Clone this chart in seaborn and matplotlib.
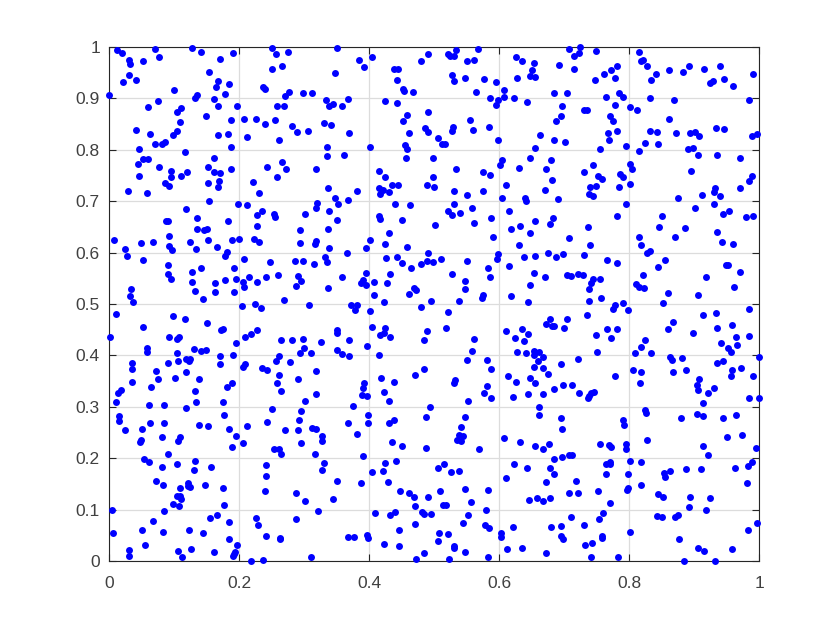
import matplotlib
matplotlib.use('Agg')
import matplotlib.pyplot as plt
import numpy as np
import pandas as pd
import seaborn as sns

# points, one list per region of the plot
top_left = [(.012,.994),(.020,.989),(.071,.996),(.127,.998),(.142,.990),(.191,.988),(.251,.998),(.257,.986),(.276,.990),
    (.030,.974),(.033,.967),(.053,.972),(.077,.980),(.170,.976),(.266,.964),(.251,.957),(.154,.952),(.030,.945),(.022,.932),(.042,.935),
    (.168,.934),(.165,.923),(.184,.928),(.100,.916),(.237,.923),(.240,.919),(.000,.907),(.136,.907),(.133,.901),(.178,.909),(.161,.899),
    (.075,.895),(.277,.912),(.270,.905),(.298,.911),(.313,.910),(.060,.883),(.168,.885),(.197,.885),(.258,.885),(.269,.885),(.110,.881),
    (.104,.873),(.149,.865),(.109,.855),(.187,.858),(.208,.859),(.226,.860),(.255,.858),(.240,.850),(.282,.847),(.042,.838),(.105,.837),
    (.289,.835),(.306,.837),(.063,.830),(.098,.828),(.183,.830),(.167,.828),(.212,.825),(.261,.819),(.071,.812),(.082,.812),(.086,.815),
    (.046,.801),(.187,.805),(.117,.795),(.053,.782),(.060,.782),(.162,.784),(.044,.773),(.266,.776),(.077,.767),(.152,.767),(.243,.767),
    (.188,.763),(.273,.762),(.319,.762),(.096,.758),(.096,.747),(.120,.756),(.111,.749),(.161,.756),(.170,.755),(.046,.750),(.258,.748),
    (.086,.735),(.092,.730),(.153,.735),(.169,.740),(.167,.728),(.222,.737),(.029,.720),(.059,.716),(.231,.716),(.154,.700),(.198,.695),
    (.212,.692),(.320,.696),(.319,.687),(.119,.684),(.236,.680),(.228,.673),(.254,.676),(.255,.669),(.301,.675),(.136,.668),(.088,.662),
    (.091,.662),(.183,.661),(.228,.652),(.136,.646),(.146,.643),(.150,.646),(.294,.643),(.092,.633),(.007,.624),(.049,.618),(.068,.620),
    (.124,.620),(.152,.624),(.189,.624),(.200,.626),(.223,.626),(.230,.620),(.294,.618),(.318,.623),(.317,.617),(.093,.613),(.097,.605),
    (.134,.607),(.166,.611),(.024,.607),(.181,.602),(.179,.593),(.028,.593),(.053,.585),(.207,.587),(.247,.581),(.286,.583),(.299,.583),
    (.316,.578),(.090,.576),(.142,.571),(.192,.570),(.128,.562),(.090,.559),(.096,.549),(.260,.557),(.216,.553),(.242,.552),(.290,.554),
    (.296,.545),(.128,.543),(.163,.541),(.178,.546),(.196,.548),(.206,.543),(.228,.543),(.288,.535),(.034,.530),(.208,.533),(.033,.516),
    (.133,.525),(.163,.523),(.192,.524),(.145,.510),(.269,.508),(.037,.504)]

top_mid = [(.351,.998),(.490,.987),(.534,.995),(.568,.997),(.522,.986),(.525,.982),(.531,.982),(.550,.973),(.562,.975),(.626,.981),
    (.635,.972),(.654,.969),(.385,.975),(.404,.980),(.393,.962),(.480,.972),(.348,.949),(.438,.957),(.445,.958),(.443,.935),(.527,.946),
    (.531,.933),(.547,.940),(.577,.938),(.595,.931),(.628,.940),(.650,.955),(.648,.943),(.655,.941),(.452,.919),(.454,.915),(.467,.912),
    (.565,.912),(.608,.917),(.586,.900),(.608,.902),(.623,.901),(.598,.896),(.595,.888),(.643,.893),(.334,.897),(.367,.899),(.344,.889),
    (.339,.886),(.359,.886),(.424,.894),(.443,.891),(.490,.873),(.459,.867),(.453,.856),(.556,.858),(.331,.853),(.341,.849),(.529,.845),
    (.528,.837),(.560,.839),(.584,.845),(.486,.842),(.490,.835),(.462,.833),(.369,.832),(.663,.828),(.506,.823),(.513,.812),(.517,.811),
    (.599,.820),(.336,.806),(.402,.806),(.456,.810),(.459,.801),(.656,.804),(.335,.788),(.362,.790),(.457,.785),(.498,.784),(.648,.785),
    (.604,.781),(.602,.771),(.631,.764),(.534,.763),(.415,.758),(.424,.747),(.499,.747),(.575,.757),(.586,.751),(.337,.726),(.436,.732),
    (.444,.732),(.489,.731),(.500,.728),(.611,.732),(.416,.725),(.381,.720),(.422,.722),(.417,.714),(.431,.717),(.531,.720),(.575,.720),
    (.550,.713),(.348,.706),(.368,.702),(.353,.695),(.604,.706),(.640,.706),(.641,.700),(.531,.695),(.440,.694),(.463,.693),(.558,.686),
    (.338,.680),(.521,.680),(.527,.673),(.540,.677),(.616,.680),(.415,.672),(.417,.665),(.350,.663),(.451,.663),(.587,.668),(.656,.661),
    (.501,.654),(.562,.657),(.632,.652),(.337,.646),(.618,.646),(.430,.639),(.648,.639),(.590,.631),(.402,.624),(.425,.617),(.339,.609),
    (.395,.609),(.458,.610),(.630,.615),(.366,.599),(.490,.600),(.332,.591),(.335,.582),(.426,.590),(.443,.591),(.599,.597),(.597,.587),
    (.639,.591),(.656,.594),(.450,.579),(.465,.571),(.480,.577),(.489,.583),(.498,.582),(.511,.588),(.550,.584),(.583,.570),(.615,.573),
    (.395,.561),(.432,.558),(.527,.559),(.586,.552),(.654,.560),(.359,.552),(.391,.546),(.388,.540),(.396,.537),(.407,.543),(.428,.540),
    (.547,.544),(.647,.536),(.337,.531),(.469,.532),(.473,.528),(.547,.529),(.461,.520),(.408,.517),(.576,.517),(.574,.512),(.618,.516),
    (.495,.505),(.539,.506),(.423,.504),(.645,.504)]

top_right = [(.708,.997),(.724,1.0),(.723,.989),(.715,.982),(.749,.993),(.815,.990),(.818,.973),(.822,.974),(.827,.963),(.693,.965),
    (.715,.958),(.782,.963),(.772,.955),(.762,.947),(.779,.940),(.747,.936),(.862,.956),(.892,.963),(.883,.951),(.916,.958),(.940,.964),
    (.842,.947),(.834,.936),(.990,.947),(.946,.937),(.929,.933),(.925,.930),(.960,.925),(.684,.911),(.705,.910),(.764,.902),(.785,.910),
    (.790,.903),(.832,.901),(.869,.897),(.985,.897),(.697,.885),(.779,.887),(.801,.884),(.812,.878),(.731,.878),(.735,.878),(.696,.865),
    (.688,.856),(.770,.865),(.776,.857),(.861,.860),(.934,.842),(.946,.840),(.781,.836),(.768,.833),(.833,.836),(.843,.834),(.872,.832),
    (.894,.833),(.901,.834),(.907,.827),(.989,.827),(.997,.830),(.684,.819),(.702,.815),(.769,.819),(.824,.813),(.845,.812),(.755,.802),
    (.795,.807),(.815,.797),(.891,.801),(.898,.803),(.906,.790),(.935,.789),(.971,.785),(.680,.781),(.672,.763),(.744,.770),(.730,.757),
    (.801,.773),(.804,.763),(.896,.759),(.682,.741),(.753,.749),(.758,.743),(.786,.753),(.790,.747),(.801,.734),(.989,.750),(.984,.739),
    (.670,.722),(.740,.727),(.749,.730),(.785,.727),(.971,.726),(.932,.726),(.930,.717),(.739,.714),(.745,.711),(.690,.705),(.876,.706),
    (.913,.712),(.940,.711),(.795,.694),(.930,.695),(.902,.687),(.954,.681),(.944,.675),(.781,.671),(.851,.672),(.991,.672),(.980,.669),
    (.683,.667),(.679,.655),(.737,.650),(.846,.650),(.886,.647),(.935,.641),(.707,.628),(.815,.631),(.870,.630),(.740,.615),(.818,.614),
    (.943,.620),(.960,.616),(.676,.600),(.699,.598),(.687,.591),(.730,.595),(.827,.599),(.832,.603),(.766,.585),(.781,.580),(.855,.585),
    (.845,.572),(.949,.576),(.953,.575),(.970,.562),(.671,.552),(.704,.557),(.710,.554),(.722,.559),(.729,.557),(.744,.549),(.755,.548),
    (.821,.557),(.918,.552),(.742,.540),(.738,.529),(.810,.538),(.815,.533),(.823,.532),(.961,.534),(.860,.521),(.906,.517),(.757,.512),
    (.739,.505)]

bottom_left = [(.205,.497),(.224,.500),(.234,.492),(.307,.499),(.010,.480),(.098,.476),(.117,.471),(.151,.463),(.052,.456),(.173,.450),
    (.176,.451),(.228,.450),(.093,.436),(.108,.436),(.105,.432),(.218,.441),(.209,.435),(.001,.435),(.265,.430),(.281,.430),(.298,.432),
    (.196,.424),(.059,.414),(.059,.406),(.130,.413),(.142,.408),(.149,.410),(.300,.414),(.105,.404),(.294,.404),(.311,.404),(.171,.398),
    (.190,.400),(.262,.399),(.257,.390),(.279,.387),(.036,.385),(.091,.386),(.106,.390),(.118,.393),(.125,.393),(.123,.389),(.171,.384),
    (.209,.383),(.206,.377),(.035,.373),(.235,.376),(.243,.371),(.072,.369),(.119,.367),(.318,.369),(.262,.362),(.075,.354),(.101,.356),
    (.138,.354),(.291,.354),(.036,.348),(.189,.347),(.258,.346),(.064,.338),(.181,.339),(.019,.333),(.014,.327),(.132,.330),(.265,.330),
    (.318,.324),(.011,.309),(.061,.304),(.085,.303),(.134,.309),(.175,.309),(.301,.311),(.119,.298),(.251,.295),(.295,.291),(.015,.283),
    (.016,.273),(.177,.285),(.292,.275),(.063,.268),(.084,.268),(.243,.271),(.139,.265),(.153,.263),(.212,.263),(.025,.255),(.051,.256),
    (.185,.257),(.270,.255),(.290,.254),(.312,.258),(.318,.257),(.081,.241),(.109,.241),(.106,.233),(.196,.244),(.049,.235),(.048,.231),
    (.206,.229),(.296,.229),(.189,.221),(.254,.217),(.262,.218),(.264,.209),(.091,.208),(.317,.208),(.054,.198),(.062,.193),(.132,.194),
    (.105,.189),(.081,.183),(.157,.183),(.242,.186),(.130,.178),(.241,.166),(.073,.155),(.083,.148),(.121,.151),(.122,.146),(.124,.143),
    (.147,.147),(.109,.142),(.175,.142),(.240,.137),(.288,.133),(.105,.127),(.109,.126),(.111,.120),(.098,.110),(.107,.107),(.177,.109),
    (.301,.116),(.004,.099),(.084,.098),(.322,.098),(.166,.089),(.156,.083),(.226,.083),(.288,.082),(.068,.078),(.184,.075),(.229,.070),
    (.051,.060),(.083,.057),(.123,.061),(.145,.054),(.006,.055),(.241,.049),(.184,.043),(.263,.045),(.263,.042),(.056,.032),(.197,.032),
    (.031,.021),(.106,.020),(.126,.023),(.162,.017),(.194,.018),(.192,.014),(.190,.010),(.031,.010),(.112,.008),(.311,.008),(.219,.000),
    (.237,.001)]

bottom_mid = [(.373,.499),(.381,.499),(.378,.489),(.402,.486),(.480,.495),(.522,.484),(.350,.449),(.350,.444),(.405,.455),(.424,.454),
    (.423,.443),(.417,.439),(.432,.436),(.489,.448),(.519,.454),(.610,.447),(.636,.452),(.645,.441),(.624,.433),(.485,.430),(.561,.432),
    (.369,.429),(.326,.426),(.397,.419),(.639,.428),(.351,.411),(.359,.402),(.369,.398),(.416,.401),(.559,.408),(.628,.407),(.641,.404),
    (.654,.409),(.662,.407),(.654,.401),(.550,.391),(.581,.391),(.660,.389),(.587,.373),(.484,.374),(.654,.378),(.471,.361),(.419,.356),
    (.614,.360),(.648,.357),(.392,.347),(.439,.348),(.533,.353),(.531,.346),(.626,.348),(.655,.346),(.582,.341),(.391,.337),(.423,.328),
    (.577,.326),(.389,.322),(.397,.321),(.622,.320),(.645,.324),(.431,.311),(.588,.317),(.552,.311),(.376,.301),(.494,.300),(.662,.300),
    (.399,.285),(.487,.281),(.547,.281),(.661,.284),(.439,.275),(.430,.268),(.367,.268),(.398,.269),(.541,.260),(.381,.248),(.539,.246),
    (.545,.243),(.535,.236),(.541,.233),(.608,.239),(.328,.243),(.327,.234),(.435,.231),(.451,.224),(.488,.220),(.632,.231),(.656,.223),
    (.569,.217),(.391,.205),(.442,.195),(.330,.190),(.425,.190),(.515,.189),(.506,.181),(.623,.189),(.328,.178),(.422,.176),(.405,.174),
    (.526,.173),(.539,.176),(.643,.181),(.610,.161),(.351,.155),(.387,.151),(.429,.154),(.547,.141),(.583,.139),(.509,.137),(.448,.137),
    (.461,.133),(.469,.125),(.491,.124),(.344,.121),(.646,.118),(.658,.122),(.557,.115),(.514,.109),(.519,.109),(.471,.107),(.580,.100),
    (.409,.094),(.440,.096),(.432,.090),(.482,.095),(.485,.091),(.495,.092),(.553,.090),(.471,.072),(.544,.073),(.579,.070),(.584,.064),
    (.621,.066),(.446,.060),(.508,.054),(.522,.053),(.603,.055),(.603,.046),(.368,.046),(.377,.047),(.397,.050),(.399,.044),(.423,.034),
    (.506,.038),(.531,.030),(.531,.025),(.446,.029),(.613,.024),(.636,.025),(.548,.018),(.485,.016),(.583,.008),(.473,.003),(.523,.003)]

bottom_right = [(.778,.499),(.775,.490),(.791,.502),(.798,.489),(.853,.501),(.984,.491),(.735,.478),(.914,.478),(.934,.482),(.679,.471),
    (.704,.471),(.673,.462),(.681,.457),(.685,.458),(.700,.454),(.868,.465),(.860,.452),(.935,.454),(.959,.460),(.766,.451),(.781,.451),
    (.899,.443),(.749,.439),(.773,.434),(.965,.436),(.984,.438),(.825,.430),(.941,.425),(.966,.421),(.819,.417),(.952,.414),(.957,.406),
    (.750,.407),(.809,.404),(.834,.404),(.863,.397),(.866,.392),(.881,.394),(.722,.393),(.668,.396),(.695,.384),(.936,.386),(.945,.390),
    (1.0,.396),(.667,.375),(.676,.364),(.806,.372),(.818,.367),(.868,.367),(.887,.372),(.958,.371),(.973,.376),(.957,.360),(.779,.359),
    (.991,.360),(.907,.355),(.817,.346),(.904,.343),(.698,.343),(.712,.342),(.685,.334),(.930,.336),(.906,.332),(.921,.326),(.746,.329),
    (.742,.326),(.739,.321),(.737,.317),(.723,.327),(.667,.324),(.985,.317),(1.0,.318),(.914,.307),(.824,.293),(.826,.287),(.905,.286),
    (.914,.283),(.964,.285),(.696,.278),(.791,.275),(.880,.279),(.944,.278),(.793,.265),(.697,.257),(.950,.241),(.974,.246),(.827,.236),
    (.677,.228),(.668,.217),(.755,.228),(.769,.226),(.772,.221),(.796,.228),(.795,.218),(.914,.224),(.995,.220),(.707,.207),(.713,.206),
    (.697,.202),(.684,.198),(.922,.207),(.802,.195),(.818,.192),(.770,.193),(.764,.188),(.770,.188),(.989,.193),(.983,.185),(.963,.181),
    (.888,.179),(.911,.179),(.679,.180),(.684,.170),(.854,.172),(.863,.175),(.856,.163),(.765,.169),(.799,.169),(.672,.153),(.719,.155),
    (.981,.151),(.819,.147),(.799,.142),(.797,.138),(.752,.137),(.707,.133),(.722,.133),(.845,.131),(.853,.125),(.679,.122),(.667,.116),
    (.894,.124),(.924,.122),(.771,.112),(.892,.106),(.919,.099),(.760,.094),(.843,.088),(.850,.086),(.870,.086),(.875,.090),(.710,.086),
    (.754,.082),(.731,.070),(.680,.066),(.696,.068),(.997,.073),(.983,.060),(.802,.056),(.695,.048),(.699,.042),(.758,.049),(.758,.044),
    (.877,.042),(.743,.035),(.732,.031),(.906,.025),(.916,.019),(.958,.024),(.672,.015),(.742,.007),(.783,.008),(.885,.000),(.933,.000)]

x_ticks = [0, 0.2, 0.4, 0.6, 0.8, 1]
x_labels = ['0', '0.2', '0.4', '0.6', '0.8', '1']
y_ticks = [0, 0.1, 0.2, 0.3, 0.4, 0.5, 0.6, 0.7, 0.8, 0.9, 1]
y_labels = ['0', '0.1', '0.2', '0.3', '0.4', '0.5', '0.6', '0.7', '0.8', '0.9', '1']

pts = top_left + top_mid + top_right + bottom_left + bottom_mid + bottom_right
data = pd.DataFrame(pts, columns=['x', 'y'])

sns.set_style('white')
plt.rcParams['font.family'] = ['Liberation Sans', 'DejaVu Sans']

fig = plt.figure(figsize=(8.4, 6.3), dpi=100)
ax = fig.add_axes([109 / 840, 1 - 561 / 630, 650 / 840, 514 / 630])

sns.scatterplot(data=data, x='x', y='y', ax=ax, color='#0000ff', s=25, linewidth=0, clip_on=False, zorder=3)

ax.set_xlim(0, 1)
ax.set_ylim(0, 1)
ax.set_xticks(x_ticks, x_labels)
ax.set_yticks(y_ticks, y_labels)
ax.set_xlabel('')
ax.set_ylabel('')
ax.grid(True, color='#dcdcdc', linewidth=0.9)
ax.set_axisbelow(True)
ax.tick_params(direction='in', length=4.7, width=0.8, color='#262626', labelcolor='#404040',
               labelsize=12.5, top=True, right=True, bottom=True, left=True)
ax.tick_params(axis='x', pad=11)
ax.tick_params(axis='y', pad=6.5)
for s in ax.spines.values():
    s.set_visible(True)
    s.set_color('#262626')
    s.set_linewidth(0.8)

plt.savefig('out.png', dpi=100)
